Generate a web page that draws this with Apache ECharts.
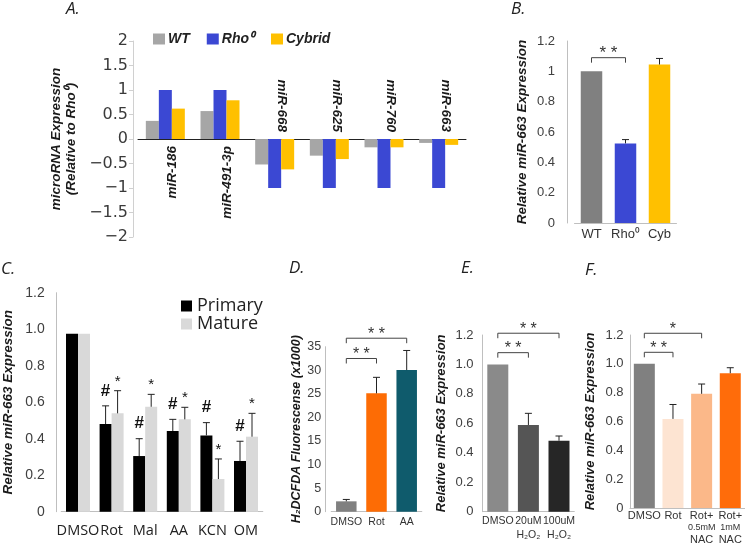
<!DOCTYPE html>
<html><head><meta charset="utf-8">
<script src="https://cdn.jsdelivr.net/npm/echarts@6/dist/echarts.min.js"></script>
<style>html,body{margin:0;padding:0;background:#fff}#c{width:745px;height:546px}</style>
</head><body><div id="c"></div><script>
// ---------- Panel A ----------
const aCategories = ['miR-186','miR-491-3p','miR-668','miR-625','miR-760','miR-663'];
const aWT     = [0.37, 0.57, -0.52, -0.34, -0.17, -0.08];
const aRho    = [1, 1, -1, -1, -1, -1];
const aCybrid = [0.62, 0.79, -0.62, -0.41, -0.17, -0.12];
const aSeriesNames = ['WT', 'Rho\u2070', 'Cybrid'];
// ---------- Panel B ----------
const bCategories = ['WT', 'Rho\u2070', 'Cyb'];
const bValues = [1.0, 0.525, 1.045];
const bErrors = [0, 0.025, 0.04];
const bSig = [[0, 1, 1.09]];
const bSigLabels = ['* *'];
// ---------- Panel C ----------
const cCategories = ['DMSO','Rot','Mal','AA','KCN','OM'];
const cPrimary    = [0.975, 0.48, 0.305, 0.442, 0.418, 0.278];
const cPrimaryErr = [0, 0.10, 0.095, 0.064, 0.07, 0.108];
const cMature     = [0.975, 0.539, 0.575, 0.506, 0.179, 0.411];
const cMatureErr  = [0, 0.124, 0.068, 0.066, 0.11, 0.128];
const cPrimaryMarks = ['', '#', '#', '#', '#', '#'];
const cMatureMarks  = ['', '*', '*', '*', '*', '*'];
// ---------- Panel D ----------
const dCategories = ['DMSO','Rot','AA'];
const dValues = [2.2, 25.1, 30.05];
const dErrors = [0.4, 3.4, 4.15];
const dSig = [[0, 1, 32.5], [0, 2, 36.8]];
const dSigLabels = ['* *', '* *'];
// ---------- Panel E ----------
const eCategories = ['DMSO', '20uM\nH\u2082O\u2082', '100uM\nH\u2082O\u2082'];
const eValues = [1.0, 0.589, 0.482];
const eErrors = [0, 0.079, 0.032];
const eSig = [[0, 1, 1.08], [0, 2, 1.212]];
const eSigLabels = ['* *', '* *'];
// ---------- Panel F ----------
const fCategories = ['DMSO', 'Rot', 'Rot+\n{s|0.5mM}\nNAC', 'Rot+\n{s|1mM}\nNAC'];
const fValues = [1.0, 0.618, 0.792, 0.935];
const fErrors = [0, 0.10, 0.068, 0.038];
const fSig = [[0, 1, 1.08], [0, 2, 1.212]];
const fSigLabels = ['* *', '*'];

// ---------- styles ----------
const aColors = ['#a6a6a6', '#3b48d3', '#ffc000'];
const bColors = ['#808080', '#3b48d3', '#ffc000'];
const cColors = ['#000000', '#d9d9d9'];
const dColors = ['#808080', '#fd6c05', '#0f5b6c'];
const eColors = ['#8a8a8a', '#555555', '#262626'];
const fColors = ['#808080', '#fde4d2', '#fbb889', '#ff6c0a'];

const SANS = 'Liberation Sans, Arial, sans-serif';
const axisGray = '#bfbfbf';
const tickText = '#404040';

function colored(vals, cols) { return vals.map((v, i) => ({ value: v, itemStyle: { color: cols[i] } })); }

function errorSeries(xi, yi, vals, errs, dx, marks, markOpts) {
  return {
    type: 'custom', xAxisIndex: xi, yAxisIndex: yi, z: 5, silent: true,
    data: vals.map((v, i) => [i, v, errs[i]]),
    encode: { x: 0, y: 1 },
    renderItem(params, api) {
      const i = api.value(0), v = api.value(1), e = api.value(2);
      const base = api.coord([i, v]);
      const top = api.coord([i, v + e]);
      const x = base[0] + dx;
      const ch = [];
      const st = { stroke: '#222', lineWidth: 1 };
      if (e > 0) {
        ch.push({ type: 'line', shape: { x1: x, y1: base[1], x2: x, y2: top[1] }, style: st });
        ch.push({ type: 'line', shape: { x1: x - 3.5, y1: top[1], x2: x + 3.5, y2: top[1] }, style: st });
      }
      const m = marks ? marks[params.dataIndex] : '';
      if (m) {
        ch.push({ type: 'text', x: x, y: top[1] - markOpts.gap,
          style: { text: m, fill: '#111', font: markOpts.font, align: 'center', verticalAlign: 'middle' } });
      }
      return { type: 'group', children: ch };
    }
  };
}

function bracketSeries(xi, yi, sig, labels, font) {
  return {
    type: 'custom', xAxisIndex: xi, yAxisIndex: yi, z: 6, silent: true,
    data: sig.map(s => [s[0], s[2], s[1]]),
    encode: { x: 0, y: 1 },
    renderItem(params, api) {
      const a = api.coord([api.value(0), api.value(1)]);
      const b = api.coord([api.value(2), api.value(1)]);
      const y = a[1];
      return { type: 'group', children: [
        { type: 'polyline', shape: { points: [[a[0], y + 5], [a[0], y], [b[0], y], [b[0], y + 5]] },
          style: { stroke: '#444', lineWidth: 1, fill: null } },
        { type: 'text', x: (a[0] + b[0]) / 2, y: y + 4,
          style: { text: labels[params.dataIndex], fill: '#333', font: font, align: 'center', verticalAlign: 'bottom' } }
      ] };
    }
  };
}

function valueAxis(grid, min, max, interval, fmt, name, nameGap, nameSize, labelSize, margin, offset, extra) {
  return Object.assign({
    type: 'value', gridIndex: grid, min: min, max: max, interval: interval, offset: offset || 0,
    splitLine: { show: false },
    axisLine: { show: true, lineStyle: { color: axisGray } },
    axisTick: { show: false },
    axisLabel: { formatter: fmt, fontSize: labelSize, color: tickText, fontFamily: SANS, margin: margin },
    name: name, nameLocation: 'middle', nameGap: nameGap,
    nameTextStyle: { fontSize: nameSize, fontStyle: 'italic', fontWeight: 'bold', color: '#1a1a1a', fontFamily: SANS }
  }, extra || {});
}
function catAxis(grid, data, labelSize, margin, extra) {
  return Object.assign({
    type: 'category', gridIndex: grid, data: data,
    axisLine: { show: true, lineStyle: { color: axisGray } },
    axisTick: { show: false },
    axisLabel: { fontSize: labelSize, color: '#333', fontFamily: SANS, margin: margin, interval: 0 }
  }, extra || {});
}

const dec1 = v => (v === 0 ? '0' : v.toFixed(1));
const aMinus = v => String(v).replace('-', '\u2212');

const aGrid = { left: 138, top: 41, width: 328, height: 196 };
const aMin = -2, aMax = 2;
const aZeroFromTop = aGrid.height * aMax / (aMax - aMin);
const aZeroFromBottom = aGrid.height - aZeroFromTop;
const aLabelStyle = { rotate: 90, interval: 0, margin: 7, fontSize: 13.5, fontStyle: 'italic', fontWeight: 'bold',
  color: '#1a1a1a', fontFamily: SANS };

const option = {
  animation: false,
  backgroundColor: '#fff',
  title: [
    ['A.', 66, 1], ['B.', 511, 1], ['C.', 1, 261], ['D.', 289, 260], ['E.', 461, 260], ['F.', 585, 262]
  ].map(t => ({ text: t[0], left: t[1], top: t[2], padding: 0,
    textStyle: { fontSize: 17, fontStyle: 'italic', fontWeight: 'normal', color: '#222', fontFamily: 'Open Sans, sans-serif' } })),
  legend: [
    { data: aSeriesNames, left: 148, top: 27, icon: 'rect', itemWidth: 12, itemHeight: 11, itemGap: 17,
      textStyle: { fontSize: 14, fontStyle: 'italic', fontWeight: 'bold', color: '#222', fontFamily: SANS, padding: [0, 0, 0, -2] } },
    { data: ['Primary', 'Mature'], orient: 'vertical', left: 176, top: 292, icon: 'rect', itemWidth: 11, itemHeight: 11, itemGap: 0,
      textStyle: { fontSize: 18, color: '#222', fontFamily: 'Open Sans, sans-serif', lineHeight: 16 } }
  ],
  grid: [
    aGrid,
    { left: 574.5, top: 41, width: 102, height: 182 },
    { left: 61.2, top: 292.7, width: 201.6, height: 219 },
    { left: 331.2, top: 346.7, width: 90.6, height: 165 },
    { left: 482.5, top: 335, width: 91.8, height: 176.7 },
    { left: 630, top: 335, width: 115, height: 176.7 }
  ],
  xAxis: [
    catAxis(0, aCategories, 13.5, 7, {
      position: 'bottom', offset: -aZeroFromBottom,
      axisLine: { show: true, onZero: false, lineStyle: { color: '#222' } },
      axisLabel: Object.assign({}, aLabelStyle, { verticalAlign: 'top', formatter: (v, i) => (aWT[i] >= 0 ? v : '') }) }),
    catAxis(0, aCategories, 13.5, 7, {
      position: 'top', offset: -aZeroFromTop,
      axisLine: { show: false, onZero: false },
      axisLabel: Object.assign({}, aLabelStyle, { verticalAlign: 'bottom', formatter: (v, i) => (aWT[i] < 0 ? v : '') }) }),
    catAxis(1, bCategories, 13, 5),
    catAxis(2, cCategories, 14, 13, { axisLabel: { fontSize: 14.5, color: '#222', fontFamily: 'Open Sans, sans-serif', margin: 12, interval: 0 } }),
    catAxis(3, dCategories, 10.5, 5),
    catAxis(4, eCategories, 10.5, 2, { axisLabel: { fontSize: 10.5, color: '#333', fontFamily: SANS, margin: 2, interval: 0, lineHeight: 14 } }),
    catAxis(5, fCategories, 11, 2, { axisLabel: { fontSize: 11, color: '#333', fontFamily: SANS, margin: 2, interval: 0, lineHeight: 12,
      rich: { s: { fontSize: 9, lineHeight: 12, color: '#333', fontFamily: SANS } } } })
  ],
  yAxis: [
    valueAxis(0, aMin, aMax, 0.5, aMinus, 'microRNA Expression\n(Relative to Rho\u2070)', 54, 13, 14, 5, 5, {
      axisLine: { show: true, onZero: false, lineStyle: { color: '#d0d0d0' } },
      axisTick: { show: true, length: 4, lineStyle: { color: '#d0d0d0' } },
      nameTextStyle: { fontSize: 13.5, lineHeight: 15, fontStyle: 'italic', fontWeight: 'bold', color: '#1a1a1a', fontFamily: SANS },
      axisLabel: { formatter: aMinus, fontSize: 16, color: '#3a3a3a', fontFamily: 'DejaVu Sans, sans-serif', margin: 5 } }),
    valueAxis(1, 0, 1.2, 0.2, null, 'Relative miR-663 Expression', 38, 13.5, 13, 12.5, 7),
    valueAxis(2, 0, 1.2, 0.2, dec1, 'Relative miR-663 Expression', 41, 13.5, 14, 12, 4.5),
    valueAxis(3, 0, 35, 5, null, 'H\u2082DCFDA Fluorescense (x1000)', 17, 12.5, 12.5, 4, 6),
    valueAxis(4, 0, 1.2, 0.2, dec1, 'Relative miR-663 Expression', 35, 13, 13, 9, 0),
    valueAxis(5, 0, 1.2, 0.2, dec1, 'Relative miR-663 Expression', 33, 13, 13, 6.5, 0)
  ],
  series: [
    { name: aSeriesNames[0], type: 'bar', xAxisIndex: 0, yAxisIndex: 0, data: aWT, barWidth: 13, barGap: '0%', itemStyle: { color: aColors[0] } },
    { name: aSeriesNames[1], type: 'bar', xAxisIndex: 0, yAxisIndex: 0, data: aRho, barWidth: 13, barGap: '0%', itemStyle: { color: aColors[1] } },
    { name: aSeriesNames[2], type: 'bar', xAxisIndex: 0, yAxisIndex: 0, data: aCybrid, barWidth: 13, barGap: '0%', itemStyle: { color: aColors[2] } },

    { type: 'bar', xAxisIndex: 2, yAxisIndex: 1, data: colored(bValues, bColors), barWidth: 21.5 },
    errorSeries(2, 1, bValues, bErrors, 0, null, null),
    bracketSeries(2, 1, bSig, bSigLabels, '17px ' + SANS),

    { name: 'Primary', type: 'bar', xAxisIndex: 3, yAxisIndex: 2, data: cPrimary, barWidth: 12, barGap: '0%', itemStyle: { color: cColors[0] } },
    { name: 'Mature', type: 'bar', xAxisIndex: 3, yAxisIndex: 2, data: cMature, barWidth: 12, barGap: '0%', itemStyle: { color: cColors[1] } },
    errorSeries(3, 2, cPrimary, cPrimaryErr, -6, cPrimaryMarks, { gap: 15, font: 'bold 17px ' + SANS }),
    errorSeries(3, 2, cMature, cMatureErr, 6, cMatureMarks, { gap: 9, font: '15px ' + SANS }),

    { type: 'bar', xAxisIndex: 4, yAxisIndex: 3, data: colored(dValues, dColors), barWidth: 20.5 },
    errorSeries(4, 3, dValues, dErrors, 0, null, null),
    bracketSeries(4, 3, dSig, dSigLabels, '16px ' + SANS),

    { type: 'bar', xAxisIndex: 5, yAxisIndex: 4, data: colored(eValues, eColors), barWidth: 21 },
    errorSeries(5, 4, eValues, eErrors, 0, null, null),
    bracketSeries(5, 4, eSig, eSigLabels, '16px ' + SANS),

    { type: 'bar', xAxisIndex: 6, yAxisIndex: 5, data: colored(fValues, fColors), barWidth: 21 },
    errorSeries(6, 5, fValues, fErrors, 0, null, null),
    bracketSeries(6, 5, fSig, fSigLabels, '16px ' + SANS)
  ]
};
const chart = echarts.init(document.getElementById('c'), null, { renderer: 'canvas' });
chart.setOption(option);
</script></body></html>
